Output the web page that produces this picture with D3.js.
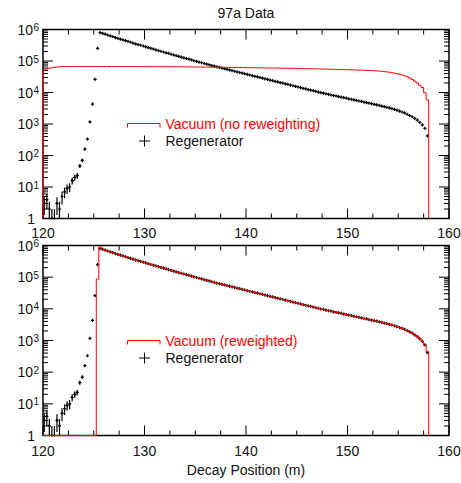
<!DOCTYPE html>
<html><head><meta charset="utf-8">
<script src="https://cdn.jsdelivr.net/npm/d3@7"></script>
<style>body{margin:0;background:#fff}text{font-family:"Liberation Sans",Arial,Helvetica,sans-serif}</style>
</head><body>
<svg id="c" width="461" height="483"></svg>
<script>
// ---- data ----
const binStart = 120, binWidth = 0.25;
const xTicks = [120, 130, 140, 150, 160];
const yDecades = [0, 1, 2, 3, 4, 5, 6];
const title = "97a Data";
const xLabel = "Decay Position (m)";
const legendTop = ["Vacuum (no reweighting)", "Regenerator"];
const legendBottom = ["Vacuum (reweighted)", "Regenerator"];

// Regenerator counts per 0.25 m bin (120.00 .. 158.00)
const regenerator = [
  3, 4, 2, 1,
  1, 3, 2, 5,
  7, 9, 10, 16,
  20, 23, 47, 70,
  160, 330, 1170, 4300,
  26000, 250000, 790000, 750000,
  710000, 670000, 630000, 600000,
  556000, 525000, 495000, 468000,
  442000, 417000, 394000, 372000,
  351000, 331000, 316000, 299000,
  282000, 266000, 251000, 240000,
  226000, 214000, 204000, 193000,
  182000, 174000, 164000, 155000,
  148000, 140000, 133000, 126000,
  120000, 114000, 108000, 102000,
  97700, 92300, 88100, 83200,
  79400, 75900, 71600, 68400,
  65300, 62400, 59600, 56900,
  54300, 51900, 49500, 47300,
  45200, 43200, 41200, 39400,
  37600, 35900, 34300, 32700,
  31300, 29900, 28500, 27200,
  26000, 24800, 23700, 22600,
  21600, 20700, 19700, 18800,
  18000, 17200, 16400, 15700,
  15000, 14300, 13600, 13000,
  12400, 11900, 11400, 10800,
  10300, 9890, 9550, 9120,
  8710, 8410, 8040, 7760,
  7410, 7160, 6840, 6610,
  6310, 6100, 5820, 5620,
  5370, 5190, 4950, 4790,
  4570, 4420, 4220, 4070,
  3890, 3720, 3550, 3390,
  3240, 3090, 2920, 2750,
  2570, 2400, 2240, 2040,
  1860, 1700, 1510, 1320,
  1120, 933, 724, 417
];
// Poisson error bars for the low-count bins (rest negligible)
const regeneratorErr = [
  1.7, 2, 1.4, 1,
  1, 1.7, 1.4, 2.2,
  2.6, 3, 3.2, 4,
  4.5, 4.8, 6.9, 8.4,
  12.6, 18, 34, 66
];
// Vacuum, no reweighting, per 0.25 m bin (120.00 .. 158.00)
const vacuumRaw = [
  52000, 56000, 59000, 61000,
  63000, 64500, 65500, 66000,
  66500, 67000, 67000, 67000,
  67000, 67000, 67000, 67000,
  67000, 67000, 67000, 67000,
  67000, 67000, 67000, 67000,
  67000, 67000, 67000, 67000,
  67000, 67000, 66800, 66800,
  66800, 66800, 66600, 66600,
  66600, 66500, 66500, 66400,
  66400, 66300, 66300, 66200,
  66200, 66100, 66000, 66000,
  66000, 65900, 65800, 65700,
  65500, 65400, 65300, 65200,
  65000, 64900, 64800, 64600,
  64500, 64400, 64200, 64100,
  64000, 63900, 63700, 63600,
  63500, 63400, 63200, 63100,
  63000, 62800, 62600, 62500,
  62300, 62100, 62000, 61800,
  61600, 61400, 61300, 61100,
  60900, 60700, 60600, 60400,
  60200, 60000, 59800, 59700,
  59500, 59300, 59100, 58900,
  58700, 58500, 58300, 58100,
  57900, 57700, 57500, 57200,
  57000, 56700, 56500, 56200,
  56000, 55700, 55500, 55200,
  55000, 54700, 54500, 54200,
  54000, 53700, 53400, 53100,
  52800, 52500, 52200, 51800,
  51500, 51200, 50800, 50400,
  50000, 49500, 49000, 48500,
  48000, 47000, 46000, 45000,
  44000, 42500, 41000, 39500,
  38000, 36000, 34000, 31500,
  29000, 26000, 23000, 20000,
  17000, 14400, 9800, 5800
];
// Vacuum, reweighted, per 0.25 m bin (120.00 .. 158.00)
const vacuumReweighted = [
  0, 0, 0, 0,
  0, 0, 0, 0,
  0, 0, 0, 0,
  0, 0, 0, 0,
  0, 0, 0, 0,
  0, 87000, 890000, 750000,
  710000, 670000, 630000, 600000,
  556000, 525000, 495000, 468000,
  442000, 417000, 394000, 372000,
  351000, 331000, 316000, 299000,
  282000, 266000, 251000, 240000,
  226000, 214000, 204000, 193000,
  182000, 174000, 164000, 155000,
  148000, 140000, 133000, 126000,
  120000, 114000, 108000, 102000,
  97700, 92300, 88100, 83200,
  79400, 75900, 71600, 68400,
  65300, 62400, 59600, 56900,
  54300, 51900, 49500, 47300,
  45200, 43200, 41200, 39400,
  37600, 35900, 34300, 32700,
  31300, 29900, 28500, 27200,
  26000, 24800, 23700, 22600,
  21600, 20700, 19700, 18800,
  18000, 17200, 16400, 15700,
  15000, 14300, 13600, 13000,
  12400, 11900, 11400, 10800,
  10300, 9890, 9550, 9120,
  8710, 8410, 8040, 7760,
  7410, 7160, 6840, 6610,
  6310, 6100, 5820, 5620,
  5370, 5190, 4950, 4790,
  4570, 4420, 4220, 4070,
  3890, 3720, 3550, 3390,
  3240, 3090, 2920, 2750,
  2570, 2400, 2240, 2040,
  1860, 1700, 1510, 1320,
  1120, 930, 720, 450
];

// ---- layout ----
const X0 = 43, X1 = 449;
const panels = [
  {top: 29.5, bottom: 218.5, vac: vacuumRaw, legend: legendTop, legY: 123.5, xlabDy: 19},
  {top: 245.5, bottom: 435.5, vac: vacuumReweighted, legend: legendBottom, legY: 340.5, xlabDy: 20.5}
];
const RED = "#ff0000";
const svg = d3.select("#c");
const x = d3.scaleLinear().domain([120, 160]).range([X0, X1]);

svg.append("text").attr("x", 246).attr("y", 17.5).attr("text-anchor", "middle")
  .attr("font-size", 14).attr("fill", "#111").text(title);

panels.forEach((p, pi) => {
  const y = d3.scaleLog().domain([1, 1e6]).range([p.bottom, p.top]).clamp(true);
  const g = svg.append("g");
  const clipId = "clip" + pi;
  svg.append("clipPath").attr("id", clipId).append("rect")
    .attr("x", X0).attr("y", p.top - 1).attr("width", X1 - X0).attr("height", p.bottom - p.top + 2);

  // ticks
  const tk = g.append("g").attr("stroke", "#000").attr("stroke-width", 1);
  d3.range(120, 160.01, 2.5).forEach(v => {
    const len = (v % 10 === 0) ? 10 : 5;
    tk.append("line").attr("x1", x(v)).attr("x2", x(v)).attr("y1", p.bottom).attr("y2", p.bottom - len);
    tk.append("line").attr("x1", x(v)).attr("x2", x(v)).attr("y1", p.top).attr("y2", p.top + len);
  });
  yDecades.forEach(d => {
    if (d < 6) {
      for (let k = 2; k <= 9; k++) {
        const yy = y(k * Math.pow(10, d));
        tk.append("line").attr("x1", X0).attr("x2", X0 + 5).attr("y1", yy).attr("y2", yy);
        tk.append("line").attr("x1", X1).attr("x2", X1 - 5).attr("y1", yy).attr("y2", yy);
      }
    }
    const yy = y(Math.pow(10, d));
    tk.append("line").attr("x1", X0).attr("x2", X0 + 10).attr("y1", yy).attr("y2", yy);
    tk.append("line").attr("x1", X1).attr("x2", X1 - 10).attr("y1", yy).attr("y2", yy);
  });

  // y labels
  yDecades.forEach(d => {
    const yy = y(Math.pow(10, d));
    if (d === 0) {
      g.append("text").attr("x", 35).attr("y", yy + 5).attr("text-anchor", "end")
        .attr("font-size", 14).attr("fill", "#111").text("1");
    } else {
      g.append("text").attr("x", 33).attr("y", yy + 5).attr("text-anchor", "end")
        .attr("font-size", 14).attr("fill", "#111").text("10");
      g.append("text").attr("x", 33.5).attr("y", yy + 1.5).attr("text-anchor", "start")
        .attr("font-size", 10).attr("fill", "#111").text(String(d));
    }
  });
  // x labels
  xTicks.forEach(v => {
    g.append("text").attr("x", x(v)).attr("y", p.bottom + p.xlabDy).attr("text-anchor", "middle")
      .attr("font-size", 14).attr("fill", "#111").text(String(v));
  });

  // regenerator markers + error bars
  const mk = g.append("g").attr("clip-path", `url(#${clipId})`).attr("stroke", "#000").attr("stroke-width", 1.2);
  regenerator.forEach((v, i) => {
    if (v <= 0) return;
    const cx = x(binStart + binWidth * (i + 0.5));
    const cy = y(v);
    const e = regeneratorErr[i] || 0;
    if (e > 0) {
      mk.append("line").attr("x1", cx).attr("x2", cx)
        .attr("y1", y(Math.max(v - e, 0.5))).attr("y2", y(v + e));
    }
    mk.append("line").attr("x1", cx - 1.6).attr("x2", cx + 1.6).attr("y1", cy).attr("y2", cy);
    mk.append("line").attr("x1", cx).attr("x2", cx).attr("y1", cy - 1.6).attr("y2", cy + 1.6);
  });

  // frame
  g.append("rect").attr("x", X0).attr("y", p.top).attr("width", X1 - X0).attr("height", p.bottom - p.top)
    .attr("fill", "none").attr("stroke", "#000").attr("stroke-width", 1.5);

  // vacuum histogram
  const pts = [[binStart, 1]];
  p.vac.forEach((v, i) => {
    const vv = Math.max(v, 1);
    pts.push([binStart + binWidth * i, vv]);
    pts.push([binStart + binWidth * (i + 1), vv]);
  });
  pts.push([binStart + binWidth * p.vac.length, 1]);
  const line = d3.line().x(d => x(d[0])).y(d => y(d[1]));
  g.append("path").attr("d", line(pts)).attr("fill", "none").attr("stroke", RED).attr("stroke-width", 1);

  // legend
  const lx1 = 127.5, lx2 = 160;
  g.append("path").attr("d", `M${lx1},${p.legY + 4}V${p.legY}H${lx2}V${p.legY + 4}`)
    .attr("fill", "none").attr("stroke", RED).attr("stroke-width", 1);
  g.append("text").attr("x", 165.5).attr("y", p.legY + 5).attr("font-size", 14).attr("fill", RED).text(p.legend[0]);
  const py = p.legY + 17.5;
  g.append("line").attr("x1", 139).attr("x2", 150).attr("y1", py).attr("y2", py).attr("stroke", "#000");
  g.append("line").attr("x1", 144.5).attr("x2", 144.5).attr("y1", py - 5.5).attr("y2", py + 5.5).attr("stroke", "#000");
  g.append("text").attr("x", 165.5).attr("y", py + 5).attr("font-size", 14).attr("fill", "#111").text(p.legend[1]);
});

svg.append("text").attr("x", 246).attr("y", 475).attr("text-anchor", "middle")
  .attr("font-size", 14).attr("fill", "#111").text(xLabel);
</script>
</body></html>
